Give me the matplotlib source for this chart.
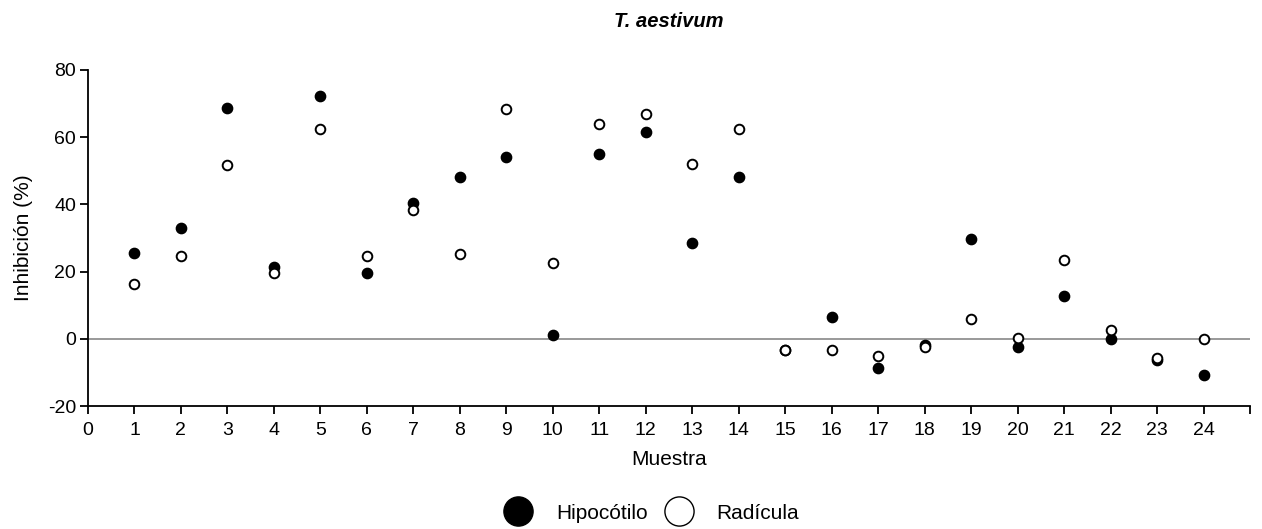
import matplotlib
matplotlib.use("Agg")
import matplotlib.pyplot as plt
from matplotlib.lines import Line2D

plt.rcParams['font.family'] = ['Liberation Sans', 'DejaVu Sans']
plt.rcParams['axes.unicode_minus'] = False

muestra = list(range(1, 25))
hipocotilo = [25.6, 33.0, 68.8, 21.3, 72.2, 19.7, 40.4, 48.2, 54.1, 1.0, 55.1, 61.5,
              28.6, 48.2, -3.4, 6.5, -8.8, -1.9, 29.6, -2.4, 12.8, 0.0, -6.3, -10.7]
radicula = [16.2, 24.6, 51.6, 19.7, 62.4, 24.6, 38.4, 25.1, 68.4, 22.7, 64.0, 67.0,
            52.1, 62.5, -3.4, -3.4, -5.2, -2.4, 6.0, 0.1, 23.6, 2.6, -5.7, 0.0]
xticks = list(range(0, 26))
xticklabels = [str(i) for i in range(0, 25)] + [""]
yticks = [-20, 0, 20, 40, 60, 80]

fig = plt.figure(figsize=(12.62, 5.29), dpi=100)
ax = fig.add_axes([0.0697, 0.2325, 0.9208, 0.6352])

ax.axhline(0, color='#888888', lw=1.2, zorder=1)
ax.scatter(muestra, hipocotilo, s=55, c='black', edgecolors='black', linewidths=1.0, zorder=3)
ax.scatter(muestra, radicula, s=48, facecolors='white', edgecolors='black', linewidths=1.4, zorder=4)

ax.set_xlim(0, 25)
ax.set_ylim(-20, 80)
ax.set_xticks(xticks)
ax.set_xticklabels(xticklabels)
ax.set_yticks(yticks)
for s in ['top', 'right']:
    ax.spines[s].set_visible(False)
for s in ['left', 'bottom']:
    ax.spines[s].set_linewidth(1.3)
ax.tick_params(axis='x', direction='out', length=6, width=1.3, labelsize=14, pad=5.5)
ax.tick_params(axis='y', direction='out', length=6, width=1.3, labelsize=14, pad=2.5)
ax.set_xlabel('Muestra', fontsize=15, labelpad=8)
ax.set_ylabel('Inhibición (%)', fontsize=15, labelpad=11)
ax.set_title('T. aestivum', fontsize=14.5, fontweight='bold', fontstyle='italic', pad=31)

handles = [Line2D([], [], ls='none', marker='o', markersize=21, markerfacecolor='black', markeredgecolor='black'),
           Line2D([], [], ls='none', marker='o', markersize=21, markerfacecolor='white', markeredgecolor='black', markeredgewidth=1.0)]
fig.legend(handles, ['Hipocótilo', 'Radícula'], loc='center', bbox_to_anchor=(0.517, 0.030),
           ncol=2, frameon=False, fontsize=15, handlelength=1.2, handletextpad=1.2, columnspacing=0.9,
           borderpad=0.0)

fig.savefig('out.png', dpi=100)
